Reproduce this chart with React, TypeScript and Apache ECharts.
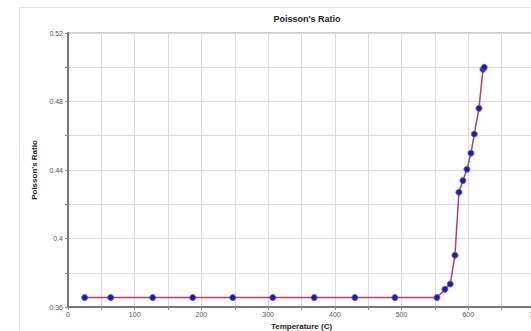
import React, { useEffect, useRef } from "react";
import * as echarts from "echarts";

const temperatures = [25, 64, 127, 187, 247, 307, 369, 430, 490, 553, 565, 573, 580, 586, 592, 598, 604, 609, 616, 622, 624];
const poissonRatio = [0.3655, 0.3655, 0.3655, 0.3655, 0.3655, 0.3655, 0.3655, 0.3655, 0.3655, 0.3655, 0.3703, 0.3734, 0.3902, 0.427, 0.4338, 0.4404, 0.4498, 0.461, 0.476, 0.4988, 0.5];
const xTickLabels = ["0", "100", "200", "300", "400", "500", "600", "700"];
const yTickLabels = ["0.36", "0.4", "0.44", "0.48", "0.52"];

export default function App() {
  const ref = useRef<HTMLDivElement>(null);
  useEffect(() => {
    if (!ref.current) return;
    const chart = echarts.init(ref.current, null, { renderer: "svg" });
    const font = "Liberation Sans, Arial, sans-serif";
    chart.setOption({
      animation: false,
      backgroundColor: "#ffffff",
      title: {
        text: "Poisson's Ratio",
        left: 302,
        textAlign: "center",
        top: 9,
        textStyle: { fontSize: 9, fontWeight: "bold", color: "#222", fontFamily: font },
      },
      graphic: [
        {
          type: "rect",
          shape: { x: 19.5, y: 7.5, width: 540, height: 340 },
          style: { fill: "none", stroke: "#e4e4e4", lineWidth: 1 },
          silent: true,
        },
      ],
      grid: {
        left: 68,
        right: -4,
        top: 33,
        bottom: 24,
        outerBoundsMode: "none",
        containLabel: false,
        show: true,
        borderColor: "#9a9a9a",
        borderWidth: 1,
      },
      xAxis: {
        type: "value",
        min: 0,
        max: 700,
        interval: 50,
        name: "Temperature (C)",
        nameLocation: "middle",
        nameGap: 15,
        nameTextStyle: { fontSize: 8, fontWeight: "bold", color: "#222", fontFamily: font },
        axisLine: { show: true, lineStyle: { color: "#777", width: 2 } },
        axisTick: { show: true, length: 3, lineStyle: { color: "#888" } },
        axisLabel: {
          fontSize: 7,
          color: "#555",
          margin: 4,
          fontFamily: font,
          formatter: (v: number) => {
            const s = String(Math.round(v));
            return xTickLabels.includes(s) ? s : "";
          },
        },
        splitLine: { show: true, lineStyle: { color: "#dcdcdc", width: 1 } },
      },
      yAxis: {
        type: "value",
        min: 0.36,
        max: 0.52,
        interval: 0.02,
        name: "Poisson's Ratio",
        nameLocation: "middle",
        nameGap: 26,
        nameTextStyle: { fontSize: 8, fontWeight: "bold", color: "#222", fontFamily: font },
        axisLine: { show: true, lineStyle: { color: "#777", width: 2 } },
        axisTick: { show: true, length: 3, lineStyle: { color: "#888" } },
        axisLabel: {
          fontSize: 7,
          color: "#555",
          margin: 5,
          fontFamily: font,
          formatter: (v: number) => {
            const s = String(Math.round(v * 100) / 100);
            return yTickLabels.includes(s) ? s : "";
          },
        },
        splitLine: { show: true, lineStyle: { color: "#dcdcdc", width: 1 } },
      },
      series: [
        {
          type: "line",
          data: temperatures.map((t, i) => [t, poissonRatio[i]]),
          lineStyle: { color: "#b8405a", width: 1.5 },
          symbol: "circle",
          symbolSize: 6,
          itemStyle: { color: "#1e1e96", borderColor: "#5a5ae0", borderWidth: 1 },
        },
      ],
    });
    return () => chart.dispose();
  }, []);
  return (
    <div
      ref={ref}
      style={{ position: "fixed", left: 0, top: 0, width: 531, height: 331 }}
    />
  );
}
